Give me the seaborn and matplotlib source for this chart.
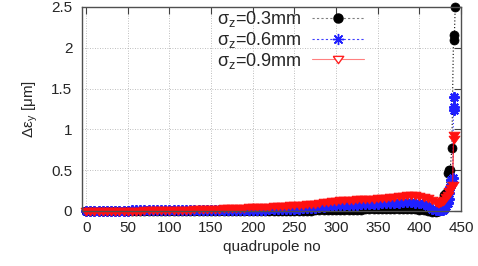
import numpy as np
import pandas as pd
import matplotlib
matplotlib.use("Agg")
import matplotlib.pyplot as plt
from matplotlib.lines import Line2D
import seaborn as sns

# ---------------- data ----------------
quad_body = list(range(0, 425, 5))

red_body = [0.000, 0.000, 0.001, 0.001, 0.002, 0.002, 0.003, 0.003, 0.004, 0.004, 0.005,
            0.005, 0.006, 0.006, 0.007, 0.008, 0.009, 0.010, 0.011, 0.012, 0.013,
            0.014, 0.015, 0.016, 0.017, 0.018, 0.020, 0.021, 0.023, 0.024, 0.026,
            0.027, 0.029, 0.031, 0.033, 0.035, 0.037, 0.039, 0.041, 0.043, 0.045,
            0.047, 0.049, 0.052, 0.055, 0.058, 0.061, 0.064, 0.067, 0.070, 0.073,
            0.076, 0.079, 0.082, 0.085, 0.090, 0.097, 0.105, 0.114, 0.122, 0.128,
            0.132, 0.135, 0.137, 0.139, 0.141, 0.143, 0.146, 0.149, 0.153, 0.157,
            0.161, 0.165, 0.169, 0.174, 0.180, 0.186, 0.190, 0.191, 0.190, 0.185,
            0.175, 0.158, 0.130, 0.105]

blue_body = [0.003, 0.003, 0.004, 0.004, 0.004, 0.005, 0.005, 0.005, 0.006, 0.006, 0.006,
             0.007, 0.007, 0.007, 0.008, 0.008, 0.008, 0.009, 0.009, 0.009, 0.010,
             0.010, 0.010, 0.010, 0.010, 0.010, 0.010, 0.010, 0.010, 0.010, 0.010,
             0.010, 0.010, 0.011, 0.011, 0.012, 0.012, 0.013, 0.013, 0.014, 0.015,
             0.016, 0.017, 0.018, 0.019, 0.020, 0.021, 0.022, 0.024, 0.026, 0.028,
             0.030, 0.032, 0.034, 0.036, 0.040, 0.045, 0.052, 0.060, 0.066, 0.070,
             0.072, 0.074, 0.075, 0.077, 0.078, 0.080, 0.082, 0.084, 0.087, 0.090,
             0.093, 0.096, 0.098, 0.100, 0.103, 0.106, 0.107, 0.106, 0.102, 0.095,
             0.082, 0.062, 0.030, 0.018]

black_body = [0.000, 0.000, 0.000, 0.000, 0.000, 0.000, 0.000, 0.000, 0.000, 0.000, 0.000,
              0.000, 0.000, 0.000, 0.000, 0.000, 0.000, 0.000, 0.000, 0.000, 0.000,
              0.000, 0.000, 0.000, 0.000, 0.000, 0.000, 0.000, 0.000, 0.000, 0.000,
              0.001, 0.001, 0.001, 0.001, 0.001, 0.002, 0.002, 0.002, 0.002, 0.002,
              0.003, 0.003, 0.003, 0.003, 0.003, 0.004, 0.004, 0.004, 0.004, 0.004,
              0.005, 0.005, 0.006, 0.006, 0.007, 0.008, 0.010, 0.012, 0.014, 0.015,
              0.016, 0.016, 0.017, 0.017, 0.018, 0.018, 0.019, 0.019, 0.020, 0.021,
              0.022, 0.023, 0.024, 0.025, 0.026, 0.027, 0.028, 0.027, 0.024, 0.018,
              0.008, -0.004, -0.010, -0.008]

black_tail_q = [422, 424, 426, 428, 430, 432, 434, 435, 437, 439, 441, 442, 443]
black_tail_v = [-0.005, 0.000, 0.020, 0.080, 0.200, 0.220, 0.470, 0.500, 0.500, 0.770, 2.160, 2.100, 2.500]

blue_tail_q = [422, 424, 426, 428, 430, 432, 434, 435, 436, 437, 438, 440, 441, 441, 442]
blue_tail_v = [0.015, 0.010, 0.010, 0.015, 0.030, 0.060, 0.100, 0.150, 0.220, 0.300, 0.380, 0.400, 1.240, 1.280, 1.400]

red_tail_q = [422, 424, 426, 428, 430, 432, 434, 436, 438, 440, 441, 442]
red_tail_v = [0.100, 0.100, 0.110, 0.120, 0.140, 0.170, 0.200, 0.240, 0.280, 0.320, 0.930, 0.880]

labels = [r"$\mathregular{σ_z}$=0.3mm", r"$\mathregular{σ_z}$=0.6mm", r"$\mathregular{σ_z}$=0.9mm"]
x_ticks = [0, 50, 100, 150, 200, 250, 300, 350, 400, 450]
y_ticks = [0, 0.5, 1, 1.5, 2, 2.5]

# ---------------- style ----------------
sns.set_style("white")
plt.rcParams["font.family"] = ["Liberation Sans", "DejaVu Sans"]
plt.rcParams["mathtext.fontset"] = "custom"
plt.rcParams["mathtext.rm"] = "Liberation Sans"
plt.rcParams["mathtext.it"] = "Liberation Sans:italic"
plt.rcParams["font.size"] = 11

fig = plt.figure(figsize=(4.78, 2.66), dpi=100)
ax = fig.add_axes([82 / 478, 1 - 211 / 266, (461 - 82) / 478, (211 - 7) / 266])

BLUE = "#2020ff"
RED = "#ff1010"
TRI = [(-1.0, 0.6), (1.0, 0.6), (0.0, -0.8), (-1.0, 0.6)]   # wide downward triangle
series = [
    (quad_body + black_tail_q, black_body + black_tail_v,
     dict(color="black", marker="o", markersize=6.5, markerfacecolor="black",
          markeredgecolor="black", markeredgewidth=0.5,
          linestyle=(0, (1, 2)), linewidth=0.8)),
    (quad_body + blue_tail_q, blue_body + blue_tail_v,
     dict(color=BLUE, marker=(8, 2, 0), markersize=7.5, markeredgewidth=1.5,
          markeredgecolor=BLUE, linestyle=(0, (1, 2)), linewidth=0.8)),
    (quad_body + red_tail_q, red_body + red_tail_v,
     dict(color=RED, marker=TRI, markersize=8, markerfacecolor=RED,
          markeredgecolor=RED, markeredgewidth=0.6, linestyle="-", linewidth=0.8)),
]

for xs, ys, kw in series:
    df = pd.DataFrame({"q": xs, "v": ys})
    sns.lineplot(data=df, x="q", y="v", ax=ax, estimator=None, sort=False,
                 clip_on=False, **kw)

ax.set_xlim(-5, 450)
ax.set_ylim(0, 2.5)
ax.set_xticks(x_ticks)
ax.set_yticks(y_ticks)
ax.set_yticklabels(["0", "0.5", "1", "1.5", "2", "2.5"])
ax.grid(True, color="#a8a8a8", linestyle=(0, (1, 2)), linewidth=0.6)
ax.tick_params(direction="in", top=True, right=True, length=5, width=0.8,
               pad=7, labelsize=11, color="#404040")
for s in ax.spines.values():
    s.set_color("#505050")
    s.set_linewidth(1.0)
    s.set_zorder(3)

ax.set_xlabel("quadrupole no", fontsize=11, labelpad=4)
ax.set_ylabel(r"$\mathregular{Δε_y}$ [μm]", fontsize=11, labelpad=8)

handles = [
    Line2D([], [], color="#808080", linestyle=(0, (2, 2)), linewidth=0.8,
           marker="o", markersize=6.5, markerfacecolor="black", markeredgecolor="black"),
    Line2D([], [], color="#4040ff", linestyle=(0, (2, 2)), linewidth=0.8,
           marker=(8, 2, 0), markersize=8, markeredgecolor=BLUE),
    Line2D([], [], color="#ff8080", linestyle="-", linewidth=0.8,
           marker=TRI, markersize=7.5, markerfacecolor="white", markeredgecolor="#ff2020",
           markeredgewidth=1.0),
]
leg = fig.legend(handles, labels, loc="upper right", bbox_to_anchor=(364 / 478, 1 - 9 / 266),
                 frameon=False, markerfirst=False, handlelength=2.9, labelspacing=0.05,
                 borderaxespad=0, borderpad=0, handletextpad=0.55, fontsize=13)
for t in leg.get_texts():
    t.set_ha("right")

sns.despine(ax=ax, top=False, right=False)
fig.savefig("out.png", dpi=100)
